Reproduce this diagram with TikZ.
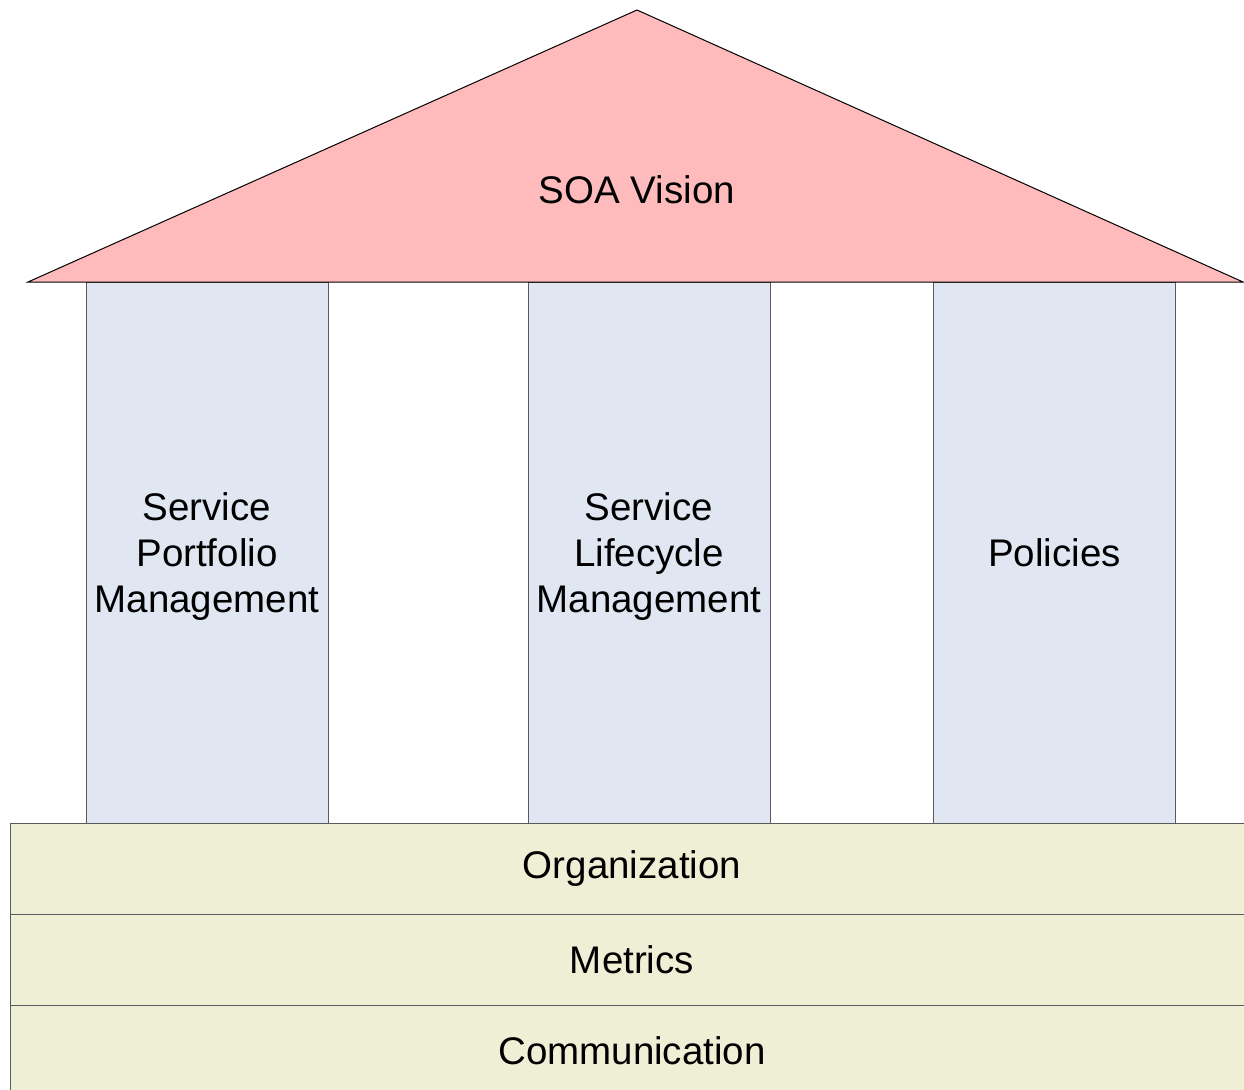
\documentclass[tikz,border=0pt]{standalone}
\usepackage{fontspec}
\setmainfont{Liberation Sans}
\usetikzlibrary{positioning}
\definecolor{roofpink}{RGB}{255,187,187}
\definecolor{pillarblue}{RGB}{224,231,242}
\definecolor{bandcream}{RGB}{239,239,214}
\definecolor{edgegray}{RGB}{90,90,90}
\begin{document}
\begin{tikzpicture}[x=1pt,y=-1pt,
 pillar/.style={draw=edgegray,line width=1pt,fill=pillarblue,minimum width=242pt,minimum height=541pt,align=center,inner sep=0pt,text depth=-4pt,font=\fontsize{38.5}{46}\selectfont},
 band/.style={draw=edgegray,line width=1pt,fill=bandcream,minimum width=1244pt,minimum height=91pt,inner sep=0pt,outer sep=0pt,font=\fontsize{38.5}{46}\selectfont}]
\useasboundingbox (0,0) rectangle (1244,1089);
\node[pillar] (spm) at (207,552.5) {Service\\Portfolio\\Management};
\node[pillar] (slm) at (649,552.5) {Service\\Lifecycle\\Management};
\node[pillar] (pol) at (1054.5,552.5) {Policies};
\coordinate (apex) at (637,10);\coordinate (eaveL) at (28,282);\coordinate (eaveR) at (1243,282);
\draw[fill=roofpink,line width=1pt] (eaveL)--(apex)--(eaveR)--cycle;
\node[font=\fontsize{38.5}{46}\selectfont] (vision) at (637,190) {SOA Vision};
\node[band,anchor=north west] (org) at (10,823) {Organization};
\node[band,anchor=north] (met) at (org.south) {Metrics};
\node[band,anchor=north] (com) at (met.south) {Communication};
\end{tikzpicture}
\end{document}
